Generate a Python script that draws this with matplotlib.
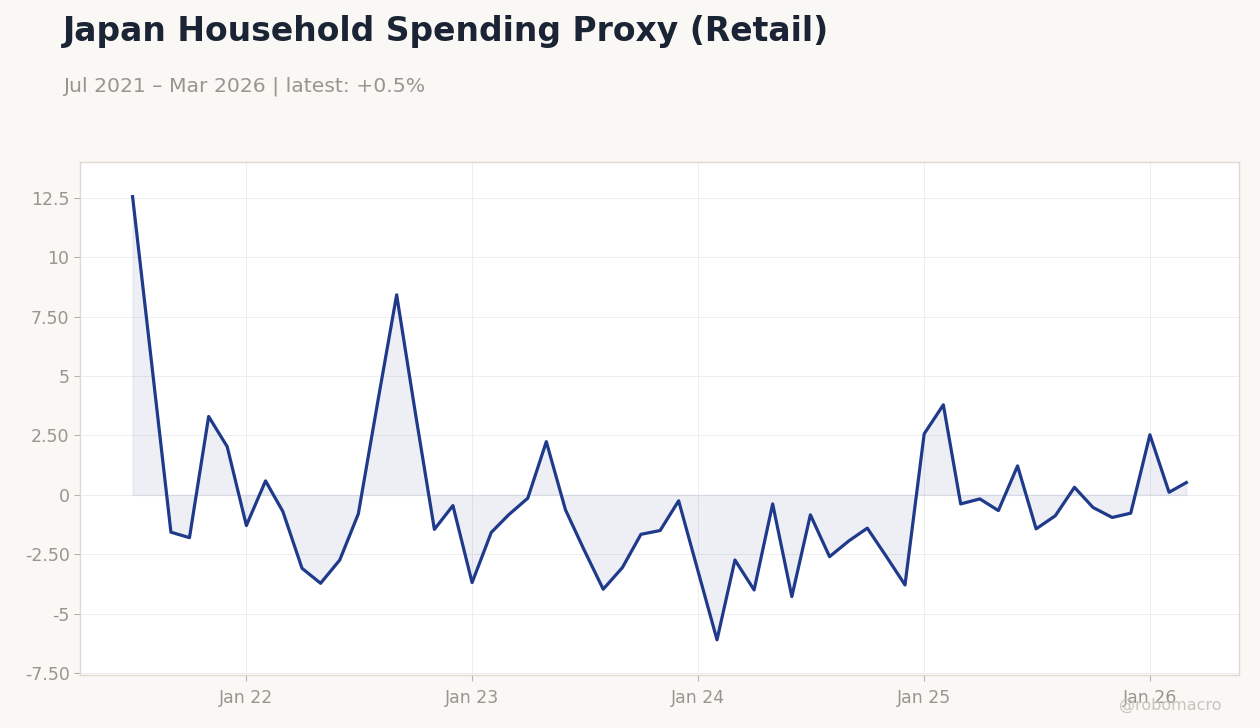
import matplotlib
matplotlib.use("Agg")
import matplotlib.pyplot as plt
import pandas as pd
import numpy as np

dates = pd.date_range("2021-07-01", "2026-03-01", freq="MS")
values = [12.55, 5.5, -1.57, -1.80, 3.30, 2.03, -1.29, 0.59, -0.70, -3.09,
          -3.72, -2.74, -0.80, 3.85, 8.42, 3.49, -1.45, -0.45, -3.69, -1.58,
          -0.84, -0.14, 2.24, -0.63, -2.31, -3.97, -3.06, -1.66, -1.50, -0.25,
          -3.18, -6.10, -2.74, -4.00, -0.38, -4.28, -0.84, -2.60, -1.94, -1.40,
          -2.60, -3.79, 2.57, 3.79, -0.38, -0.17, -0.66, 1.22, -1.43, -0.88,
          0.32, -0.53, -0.95, -0.77, 2.53, 0.11, 0.52]
ytick_vals = [-7.5, -5, -2.5, 0, 2.5, 5, 7.5, 10, 12.5]
ytick_labels = ["-7.50", "-5", "-2.50", "0", "2.50", "5", "7.50", "10", "12.5"]
xtick_dates = pd.to_datetime(["2022-01-01", "2023-01-01", "2024-01-01", "2025-01-01", "2026-01-01"])
xtick_labels = ["Jan 22", "Jan 23", "Jan 24", "Jan 25", "Jan 26"]

title = "Japan Household Spending Proxy (Retail)"
subtitle = "Jul 2021 \u2013 Mar 2026 | latest: +0.5%"

line_color = "#1f3a8a"
bg = "#f9f8f5"
grey = "#9a948e"

fig = plt.figure(figsize=(12.6, 7.28), dpi=100, facecolor=bg)
ax = fig.add_axes([0.0635, 0.0728, 0.9198, 0.7047])
ax.set_facecolor("white")

v = np.array(values)
ax.fill_between(dates, v, 0, color=line_color, alpha=0.08, linewidth=1.0)
ax.plot(dates, v, color=line_color, linewidth=2.3, zorder=3)

ax.set_ylim(-7.58, 14.01)
ax.set_xlim(pd.Timestamp("2021-04-07"), pd.Timestamp("2026-05-25"))

ax.set_yticks(ytick_vals)
ax.set_yticklabels(ytick_labels)
ax.set_xticks(xtick_dates)
ax.set_xticklabels(xtick_labels)

ax.tick_params(axis="both", colors="#b8b2ab", labelcolor=grey, labelsize=12.5, length=4, width=0.8)
ax.tick_params(axis="x", pad=6)
ax.grid(True, color="#eeeeee", linewidth=0.7)
ax.set_axisbelow(True)
for s in ax.spines.values():
    s.set_color("#e0d9d0")
    s.set_linewidth(1.0)

fig.text(63/1260, 1 - 31/728, title, fontsize=23.75, fontweight="bold", color="#1b2434",
         ha="left", va="center")
fig.text(63/1260, 1 - 86/728, subtitle, fontsize=14.65, color=grey, ha="left", va="center")
fig.text(1222/1260, 1 - 705/728, "@robomacro", fontsize=11.5, color="#c8c4bf", ha="right", va="center")

fig.savefig("out.png", dpi=100, facecolor=bg)
